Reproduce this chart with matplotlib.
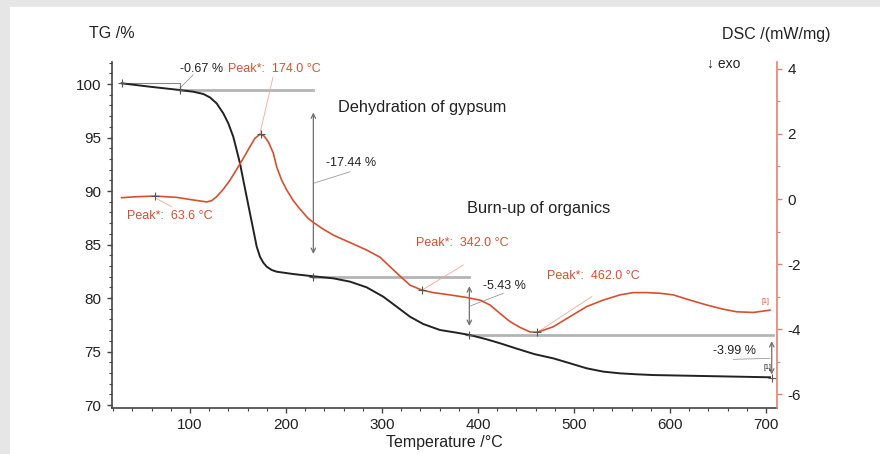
import matplotlib
matplotlib.use("Agg")
import matplotlib.pyplot as plt
from matplotlib.ticker import MultipleLocator

plt.rcParams['font.family'] = ['Liberation Sans', 'DejaVu Sans']
plt.rcParams['axes.unicode_minus'] = False

# ---- data ----
tg_T = [28.8, 58.3, 89.6, 103.5, 113.9, 120.8, 127.8, 134.7, 139.9, 145.1, 148.6,
        152.1, 155.5, 159.0, 162.5, 166.0, 169.5, 172.9, 176.4, 179.9, 185.1,
        190.3, 207.6, 228.5, 249.3, 266.7, 284.0, 301.4, 315.3, 329.2, 343.0,
        360.4, 377.8, 391.7, 409.0, 423.0, 441.0, 459.0, 478.5, 495.8, 513.2,
        530.5, 547.9, 565.3, 582.6, 617.4, 652.1, 704.2]
tg_val = [100.07, 99.75, 99.44, 99.28, 99.07, 98.75, 98.19, 97.26, 96.33, 95.07,
          93.83, 92.58, 91.03, 89.47, 87.91, 86.36, 84.8, 83.86, 83.3, 82.93,
          82.62, 82.46, 82.24, 82.03, 81.84, 81.53, 81.0, 80.12, 79.19, 78.25,
          77.57, 77.01, 76.76, 76.54, 76.14, 75.77, 75.25, 74.75, 74.36, 73.9,
          73.43, 73.12, 72.96, 72.87, 72.8, 72.74, 72.68, 72.59]

dsc_T = [28.8, 44.4, 63.5, 86.1, 103.5, 117.4, 122.6, 127.8, 134.7, 141.7, 148.6,
         155.5, 162.5, 167.7, 172.9, 177.1, 181.6, 186.8, 190.3, 195.5, 200.7,
         207.6, 214.6, 223.2, 228.5, 238.9, 249.3, 266.7, 284.0, 297.9, 308.3,
         318.75, 329.2, 341.3, 353.5, 370.8, 388.2, 402.1, 412.5, 422.9, 433.3,
         443.75, 454.2, 462.0, 478.5, 495.8, 513.2, 530.5, 547.9, 561.8, 575.7,
         589.6, 603.5, 620.8, 638.2, 655.5, 669.5, 686.8, 704.2]
dsc_val = [0.04, 0.07, 0.09, 0.05, -0.03, -0.09, -0.05, 0.07, 0.30, 0.58, 0.91,
           1.25, 1.61, 1.87, 1.99, 1.94, 1.76, 1.41, 0.99, 0.58, 0.28,
           -0.05, -0.31, -0.60, -0.72, -0.93, -1.11, -1.34, -1.57, -1.79, -2.08,
           -2.37, -2.65, -2.80, -2.88, -2.95, -3.03, -3.11, -3.26, -3.52, -3.77,
           -3.95, -4.09, -4.10, -3.93, -3.62, -3.31, -3.11, -2.95, -2.88, -2.88,
           -2.90, -2.95, -3.11, -3.26, -3.39, -3.47, -3.49, -3.42]

step_T = [28.8, 89.6, 228.5, 391.0, 706.0]
step_TG = [100.07, 99.40, 81.96, 76.53, 72.54]
step_labels = ["-0.67 %", "-17.44 %", "-5.43 %", "-3.99 %"]

peak_T = [63.6, 174.0, 342.0, 462.0]
peak_DSC = [0.09, 1.99, -2.80, -4.10]
peak_labels = ["Peak*:  63.6 \u00b0C", "Peak*:  174.0 \u00b0C",
               "Peak*:  342.0 \u00b0C", "Peak*:  462.0 \u00b0C"]

tg_ticks = [70, 75, 80, 85, 90, 95, 100]
dsc_ticks = [-6, -4, -2, 0, 2, 4]
x_ticks = [100, 200, 300, 400, 500, 600, 700]

RED = '#d6502f'
RED_SPINE = '#e8806e'
BLACK = '#222222'
GRAY = '#b4b4b4'

fig = plt.figure(figsize=(8.8, 4.54), dpi=100)
fig.patch.set_facecolor('#e6e6e6')
fig.patches.append(plt.Rectangle((10 / 880, 0), 1, 1 - 7 / 454,
                                 transform=fig.transFigure, color='white', zorder=-10))

ax = fig.add_axes([112 / 880, 46 / 454, 665 / 880, 346 / 454])
ax.set_facecolor('none')
ax2 = ax.twinx()

ax.set_xlim(18.75, 711.5)
ax.set_ylim(69.72, 102.06)
ax2.set_ylim(-6.43, 4.215)

# spines
for a in (ax, ax2):
    a.spines['top'].set_visible(False)
ax.spines['right'].set_visible(False)
ax2.spines['left'].set_visible(False)
ax2.spines['bottom'].set_visible(False)
ax2.spines['right'].set_color(RED_SPINE)
ax2.spines['right'].set_linewidth(1.2)
for s in ('left', 'bottom'):
    ax.spines[s].set_color('#444444')
    ax.spines[s].set_linewidth(1.2)

ax.set_xticks(x_ticks)
ax.set_yticks(tg_ticks)
ax2.set_yticks(dsc_ticks)
ax.xaxis.set_minor_locator(MultipleLocator(20))
ax.yaxis.set_minor_locator(MultipleLocator(1))
ax2.yaxis.set_minor_locator(MultipleLocator(1))
ax.tick_params(axis='both', which='major', length=3.5, width=1, color='#444444',
               labelsize=11, labelcolor=BLACK, pad=4)
ax.tick_params(axis='both', which='minor', length=2, width=0.8, color='#444444')
ax2.tick_params(axis='y', which='major', length=3.5, width=1, color=RED_SPINE,
                labelsize=11, labelcolor=BLACK, pad=4)
ax2.tick_params(axis='y', which='minor', length=2, width=0.8, color=RED_SPINE)

ax.set_xlabel("Temperature /\u00b0C", fontsize=11.5, color=BLACK, labelpad=2)

# step level guide lines
ax.plot([step_T[0], step_T[1]], [step_TG[0] + 0.05, step_TG[0] + 0.05], color='#888888', lw=0.8)
ax.plot([step_T[1], step_T[1]], [step_TG[0] + 0.05, step_TG[1]], color='#888888', lw=0.8)
ax.plot([step_T[1], step_T[2]], [step_TG[1], step_TG[1]], color=GRAY, lw=2)
ax.plot([step_T[2], step_T[3]], [step_TG[2], step_TG[2]], color=GRAY, lw=2)
ax.plot([step_T[3], step_T[4] + 1], [step_TG[3], step_TG[3]], color=GRAY, lw=2)

# double arrows for steps
arrow_kw = dict(arrowstyle='<->', color='#707070', lw=0.9, mutation_scale=8)
ax.annotate('', xy=(step_T[2], step_TG[1] - 1.8), xytext=(step_T[2], step_TG[2] + 1.9),
            arrowprops=arrow_kw)
ax.annotate('', xy=(step_T[3], step_TG[2] - 0.6), xytext=(step_T[3], step_TG[3] + 0.6),
            arrowprops=arrow_kw)
ax.annotate('', xy=(step_T[4], step_TG[3] - 0.3), xytext=(step_T[4], step_TG[4] + 0.05),
            arrowprops=arrow_kw)

# curves
ax.plot(tg_T, tg_val, color=BLACK, lw=1.4, zorder=5, solid_joinstyle='round')
ax2.plot(dsc_T, dsc_val, color=RED, lw=1.2, zorder=5, solid_joinstyle='round')

# markers
ax.plot(step_T, step_TG, '+', color='#555555', ms=6, mew=0.8, zorder=6)
ax2.plot(peak_T, peak_DSC, '+', color='#555555', ms=6, mew=0.8, zorder=6)

# leader lines
LG = '#9a9a9a'
LR = '#f2a898'
ax.plot([89.6, 103.1], [99.63, 100.84], color=LG, lw=0.6)
ax.plot([173.0, 186.5], [95.42, 100.65], color=LR, lw=0.6)
ax.plot([65.3, 80.9], [89.28, 88.53], color=LR, lw=0.6)
ax.plot([228.5, 266.7], [90.72, 91.8], color=LG, lw=0.6)
ax.plot([343.0, 384.7], [80.81, 83.08], color=LR, lw=0.6)
ax.plot([391.7, 426.4], [79.25, 80.44], color=LG, lw=0.6)
ax.plot([462.8, 518.4], [76.85, 80.12], color=LR, lw=0.6)
ax.plot([666.0, 704.0], [74.27, 74.36], color=LG, lw=0.6)

# annotation texts
fs = 9
ax.text(89.6, 101.4, step_labels[0], fontsize=fs, color=BLACK, va='center', ha='left')
ax.text(139.6, 101.4, peak_labels[1], fontsize=fs, color=RED, va='center', ha='left')
ax.text(241.7, 92.62, step_labels[1], fontsize=fs, color=BLACK, va='center', ha='left')
ax.text(34.4, 87.66, peak_labels[0], fontsize=fs, color=RED, va='center', ha='left')
ax.text(335.4, 85.14, peak_labels[2], fontsize=fs, color=RED, va='center', ha='left')
ax.text(405.2, 81.12, step_labels[2], fontsize=fs, color=BLACK, va='center', ha='left')
ax.text(471.9, 82.06, peak_labels[3], fontsize=fs, color=RED, va='center', ha='left')
ax.text(644.8, 75.05, step_labels[3], fontsize=fs, color=BLACK, va='center', ha='left')
ax.text(254.0, 97.85, "Dehydration of gypsum", fontsize=11.8, color=BLACK, va='center', ha='left')
ax.text(388.5, 88.41, "Burn-up of organics", fontsize=11.8, color=BLACK, va='center', ha='left')
ax.text(699.0, 79.72, "[1]", fontsize=5, color=RED, va='center', ha='center')
ax.text(701.5, 73.55, "[1]", fontsize=5, color=BLACK, va='center', ha='center')

fig.text(707 / 880, 1 - 64 / 454, "\u2193 exo", fontsize=10, color=BLACK, va='center', ha='left',
         family=['Liberation Sans', 'DejaVu Sans'])
fig.text(89 / 880, 1 - 33 / 454, "TG /%", fontsize=11.5, color=BLACK, va='center', ha='left')
fig.text(722 / 880, 1 - 35 / 454, "DSC /(mW/mg)", fontsize=11.5, color=BLACK, va='center', ha='left')

fig.savefig("out.png", dpi=100)
